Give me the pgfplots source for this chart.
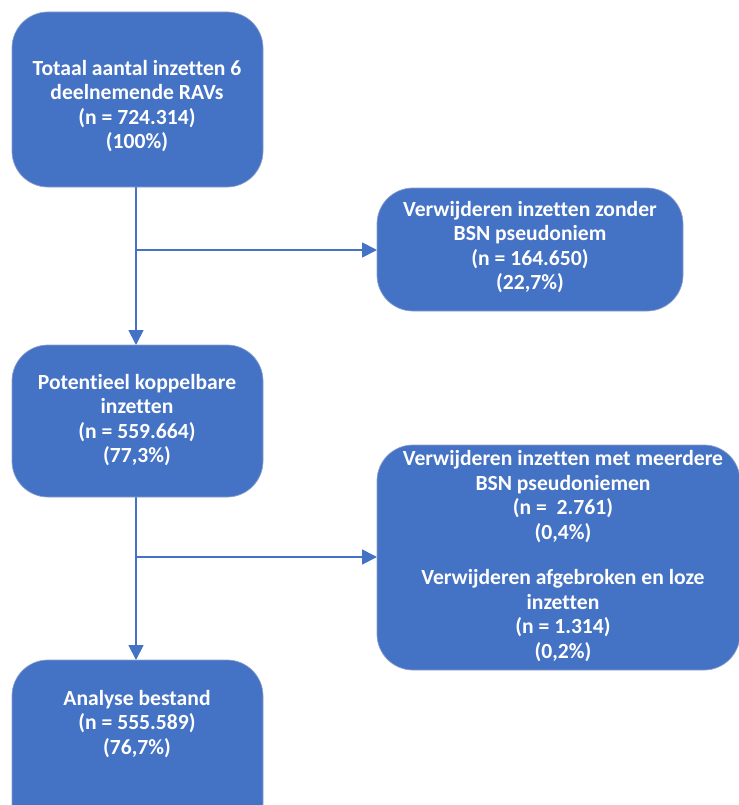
\documentclass[border=0pt]{standalone}
\usepackage{fontspec}
\setmainfont{Carlito}[Ligatures=NoCommon]
\usepackage{pgfplots}
\pgfplotsset{compat=1.18}
\usetikzlibrary{arrows.meta}
\definecolor{boxblue}{HTML}{4472C4}
\definecolor{boxedge}{HTML}{8A9FCC}
\tikzset{
  box/.style={fill=boxblue, draw=boxedge, line width=0.7bp, rounded corners=36bp},
  txt/.style={align=center, text=white, font=\fontsize{21.6bp}{24.5bp}\selectfont\bfseries, inner sep=0pt},
  flow/.style={boxblue, line width=1.8bp, -{Triangle[length=15bp,width=15bp]}},
}
\begin{document}
\begin{tikzpicture}
\useasboundingbox (0,0) rectangle (739bp,805bp);
\clip (0,0) rectangle (739bp,805bp);
\begin{axis}[
    at={(0,0)}, anchor=south west,
    scale only axis,
    width=739bp, height=805bp,
    xmin=0, xmax=739, ymin=0, ymax=805,
    y dir=reverse,
    hide axis,
    clip=false,
]
% connectors
\addplot[flow] coordinates {(136,187) (136,345)};
\addplot[flow] coordinates {(136,250) (377,250)};
\addplot[flow] coordinates {(136,497) (136,660)};
\addplot[flow] coordinates {(136,557) (377,557)};

% boxes
\draw[box] (axis cs:12,12) rectangle (axis cs:263,187);
\draw[box] (axis cs:377,188) rectangle (axis cs:683,311);
\draw[box] (axis cs:12,345) rectangle (axis cs:263,497);
\draw[box] (axis cs:377,445) rectangle (axis cs:740,670);
\draw[box] (axis cs:12,660) rectangle (axis cs:263,840);

\node[txt] at (axis cs:137,106) {Totaal aantal inzetten 6\\deelnemende RAVs\\(n = 724.314)\\(100\%)};
\node[txt] at (axis cs:530,247) {Verwijderen inzetten zonder\\BSN pseudoniem\\(n = 164.650)\\(22,7\%)};
\node[txt] at (axis cs:137,420) {Potentieel koppelbare\\inzetten\\(n = 559.664)\\(77,3\%)};
\node[txt] at (axis cs:563,556) {Verwijderen inzetten met meerdere\\BSN pseudoniemen\\(n =\ \ 2.761)\\(0,4\%)\\[21bp]Verwijderen afgebroken en loze\\inzetten\\(n = 1.314)\\(0,2\%)};
\node[txt] at (axis cs:137,724) {Analyse bestand\\(n = 555.589)\\(76,7\%)};
\end{axis}
\end{tikzpicture}
\end{document}
